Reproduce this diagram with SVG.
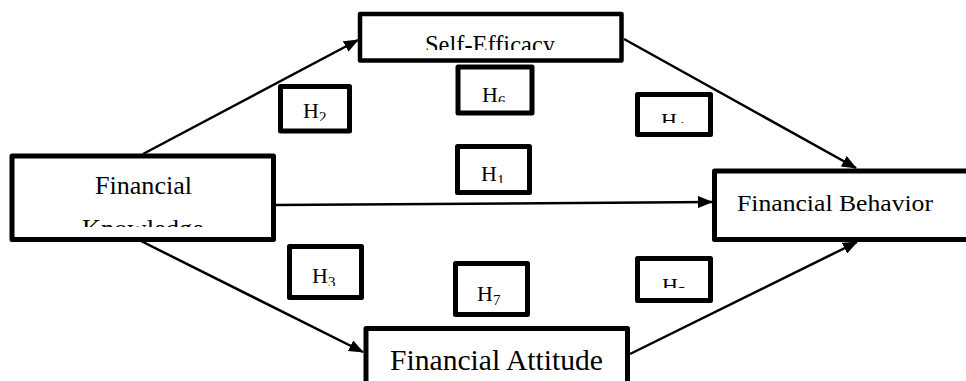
<svg xmlns="http://www.w3.org/2000/svg" width="966" height="381" viewBox="0 0 966 381">
<style>
.box{fill:#fff;stroke:#000;stroke-linejoin:round}
.big{stroke-width:5}
.hb{stroke-width:5}
.lbl{font-family:"Liberation Serif","Times New Roman",serif;fill:#000}
.h{font-family:"Liberation Serif","Times New Roman",serif;fill:#000;font-size:22px}
.sub{font-size:15px}
.conn{stroke:#000;stroke-width:2.5;fill:none}
</style>
<defs>
<marker id="arr" viewBox="0 0 15 12" refX="14" refY="6" markerWidth="15" markerHeight="12" markerUnits="userSpaceOnUse" orient="auto">
<path d="M0,0 L15,6 L0,12 Z" fill="#000"/>
</marker>
<clipPath id="cSE"><rect x="362" y="16" width="257" height="34"/></clipPath>
<clipPath id="cFK"><rect x="15" y="159" width="256" height="68"/></clipPath>
<clipPath id="cH2"><rect x="283" y="89" width="64" height="32"/></clipPath>
<clipPath id="cH6"><rect x="459" y="60" width="72" height="42"/></clipPath>
<clipPath id="cH4"><rect x="638" y="95" width="72" height="28"/></clipPath>
<clipPath id="cH1"><rect x="458" y="147" width="72" height="36"/></clipPath>
<clipPath id="cH3"><rect x="290" y="247" width="72" height="39"/></clipPath>
<clipPath id="cH7"><rect x="456" y="264" width="72" height="42"/></clipPath>
<clipPath id="cH5"><rect x="638" y="259" width="72" height="29"/></clipPath>
</defs>

<g id="connectors">
<line class="conn" x1="143" y1="154" x2="358" y2="40" marker-end="url(#arr)"/>
<line class="conn" x1="624" y1="39" x2="856" y2="168" marker-end="url(#arr)"/>
<line class="conn" x1="276" y1="205" x2="712" y2="202" marker-end="url(#arr)"/>
<line class="conn" x1="141" y1="241" x2="363" y2="352" marker-end="url(#arr)"/>
<line class="conn" x1="630" y1="354" x2="857" y2="242" marker-end="url(#arr)"/>
</g>

<g id="self-efficacy">
<rect class="box" x="360" y="14" width="261.5" height="46.5" stroke-width="4.5"/>
<text class="lbl" x="490" y="53" font-size="25" text-anchor="middle" textLength="130" lengthAdjust="spacingAndGlyphs" clip-path="url(#cSE)">Self-Efficacy</text>
</g>

<g id="financial-knowledge">
<rect class="box big" x="12" y="156" width="261.5" height="83.5"/>
<g clip-path="url(#cFK)">
<text class="lbl" x="143.5" y="194" font-size="25" text-anchor="middle" textLength="97" lengthAdjust="spacingAndGlyphs">Financial</text>
<text class="lbl" x="143" y="237" font-size="25" text-anchor="middle" textLength="122" lengthAdjust="spacingAndGlyphs">Knowledge</text>
</g>
</g>

<g id="financial-behavior">
<rect class="box big" x="714.5" y="171" width="262" height="68.5"/>
<text class="lbl" x="835" y="211" font-size="24" text-anchor="middle" textLength="196" lengthAdjust="spacingAndGlyphs">Financial Behavior</text>
</g>

<g id="financial-attitude">
<rect class="box big" x="366" y="328.5" width="261.5" height="60"/>
<text class="lbl" x="496.5" y="370" font-size="29" text-anchor="middle" textLength="213" lengthAdjust="spacingAndGlyphs">Financial Attitude</text>
</g>

<g id="h2">
<rect class="box hb" x="280.5" y="86.5" width="69" height="44.5"/>
<text class="h" x="303" y="118" clip-path="url(#cH2)">H<tspan class="sub" dy="4">2</tspan></text>
</g>

<g id="h6">
<rect class="box hb" x="458" y="67" width="74" height="46"/>
<text class="h" x="482" y="102" clip-path="url(#cH6)">H<tspan class="sub" dy="4">6</tspan></text>
</g>

<g id="h4">
<rect class="box hb" x="637.5" y="94.5" width="73" height="40"/>
<text class="h" x="661" y="128" clip-path="url(#cH4)">H<tspan class="sub" dy="4">4</tspan></text>
</g>

<g id="h1">
<rect class="box hb" x="457.5" y="146.5" width="72" height="46"/>
<text class="h" x="481" y="181" clip-path="url(#cH1)">H<tspan class="sub" dy="4">1</tspan></text>
</g>

<g id="h3">
<rect class="box hb" x="289.5" y="246.5" width="72" height="51"/>
<text class="h" x="312" y="283" clip-path="url(#cH3)">H<tspan class="sub" dy="4">3</tspan></text>
</g>

<g id="h7">
<rect class="box hb" x="455.5" y="263.5" width="72" height="51"/>
<text class="h" x="477" y="301" clip-path="url(#cH7)">H<tspan class="sub" dy="4">7</tspan></text>
</g>

<g id="h5">
<rect class="box hb" x="637.5" y="258.5" width="73" height="42"/>
<text class="h" x="662" y="293" clip-path="url(#cH5)">H<tspan class="sub" dy="4">5</tspan></text>
</g>
</svg>
